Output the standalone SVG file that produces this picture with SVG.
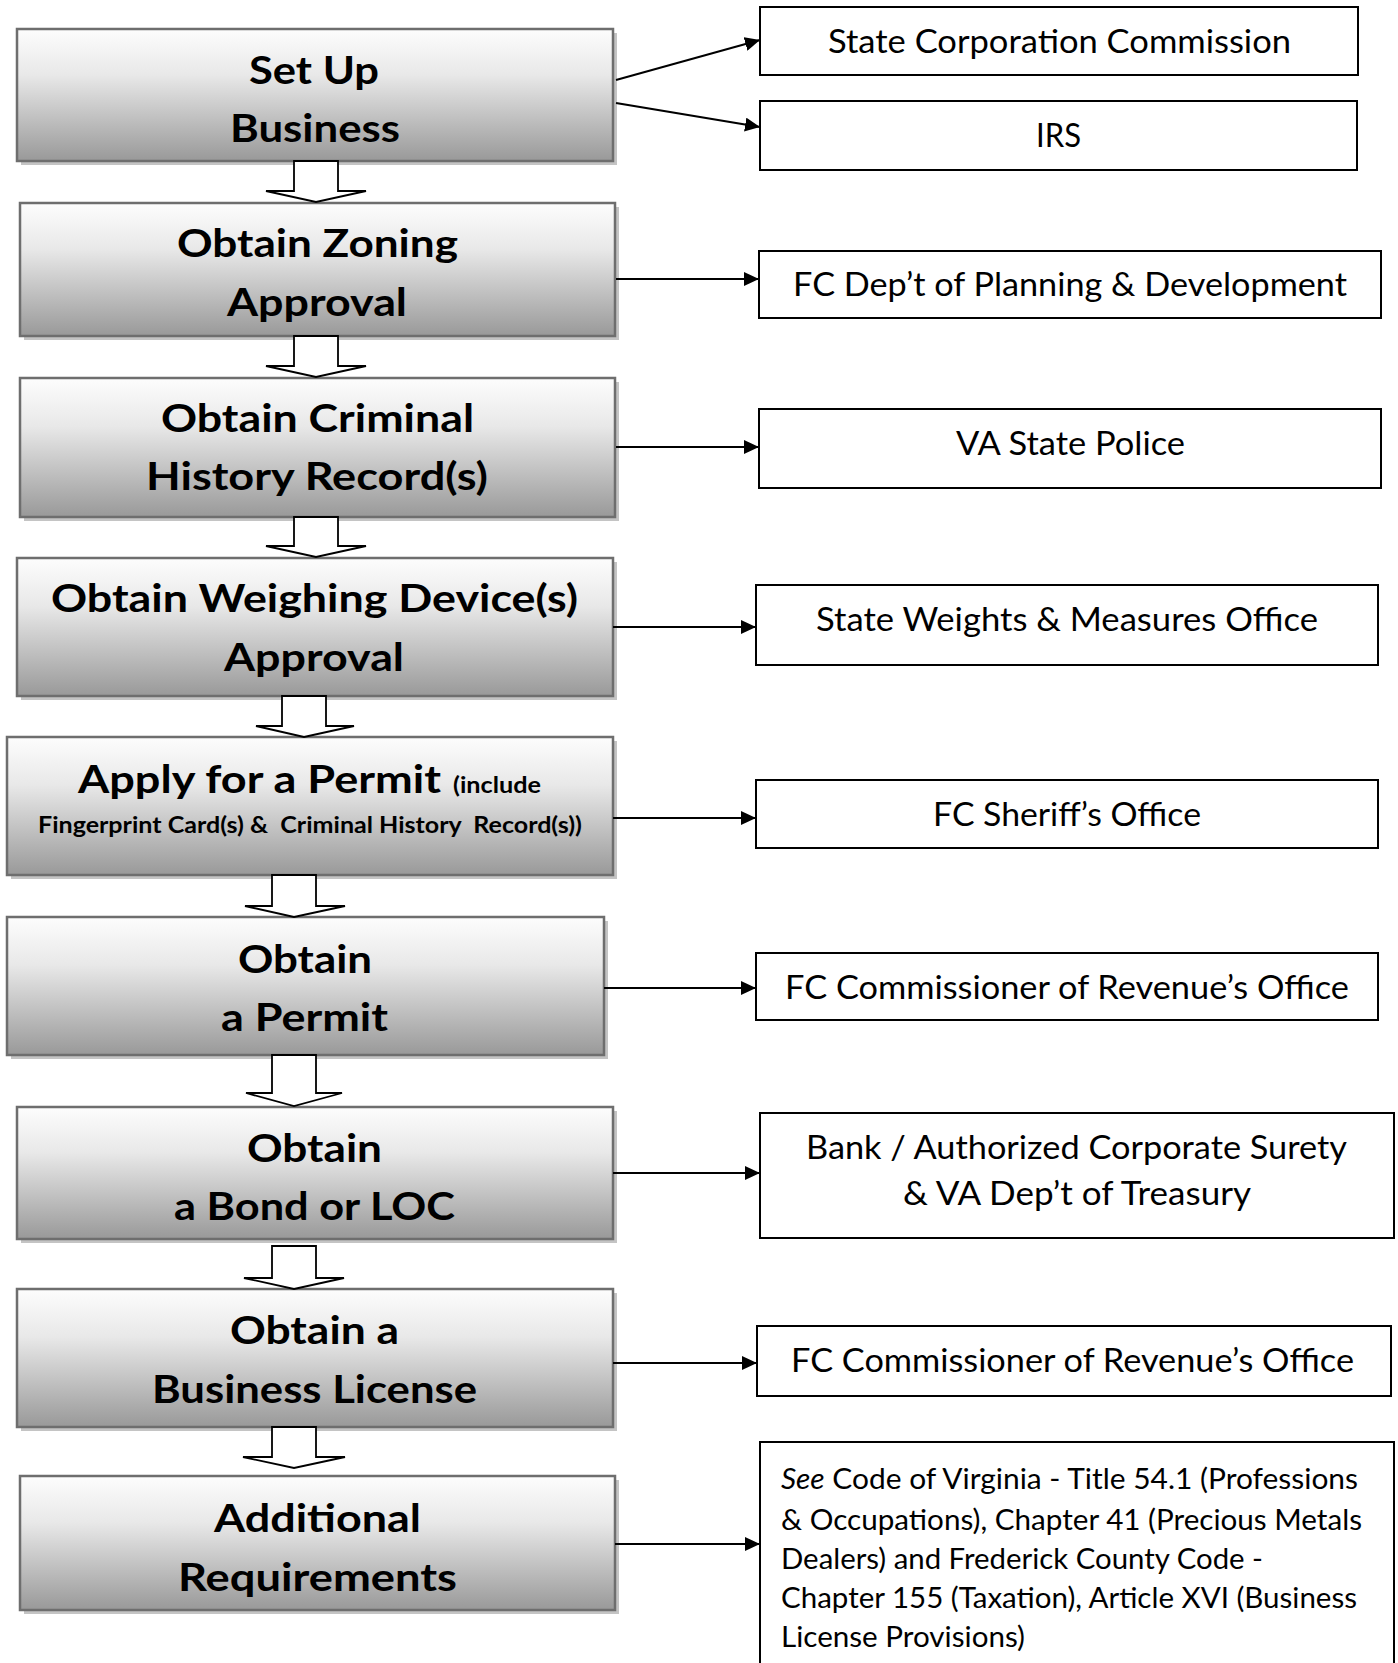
<svg xmlns="http://www.w3.org/2000/svg" width="1398" height="1663" viewBox="0 0 1398 1663">
<style>
.bx{fill:url(#g);stroke:#6e6e6e;stroke-width:2.5}
.sh{fill:#c4c4c4}
.rb{fill:#fff;stroke:#000;stroke-width:2}
.t{font-family:Lato,"Open Sans",sans-serif;font-weight:bold;font-size:39px;fill:#000}
.ts{font-family:Lato,"Open Sans",sans-serif;font-weight:bold;font-size:22px;fill:#000}
.r{font-family:Lato,"Open Sans",sans-serif;font-size:32px;fill:#000}
.rs{font-family:Lato,"Open Sans",sans-serif;font-size:29px;fill:#000}
.ba{fill:#fff;stroke:#000;stroke-width:1.8;stroke-linejoin:miter}
.c{stroke:#000;stroke-width:2;fill:none;marker-end:url(#ah)}
</style>
<defs>
<linearGradient id="g" x1="0" y1="0" x2="0" y2="1">
<stop offset="0" stop-color="#fdfdfd"/>
<stop offset="0.35" stop-color="#e8e8e8"/>
<stop offset="1" stop-color="#999"/>
</linearGradient>
<marker id="ah" markerUnits="userSpaceOnUse" markerWidth="16" markerHeight="14" refX="15" refY="7" orient="auto">
<path d="M0,0 L15,7 L0,14 z" fill="#000"/>
</marker>
</defs>
<rect width="1398" height="1663" fill="#fff"/>

<g id="n1"><rect class="sh" x="21" y="33" width="596" height="132"/><rect class="bx" x="17" y="29" width="596" height="132"/>
<text class="t" x="249" y="84" textLength="130" lengthAdjust="spacingAndGlyphs">Set Up</text>
<text class="t" x="230" y="142" textLength="170" lengthAdjust="spacingAndGlyphs">Business</text></g>

<g id="n2"><rect class="sh" x="24" y="207" width="595" height="133"/><rect class="bx" x="20" y="203" width="595" height="133"/>
<text class="t" x="177" y="257" textLength="281" lengthAdjust="spacingAndGlyphs">Obtain Zoning</text>
<text class="t" x="227" y="316" textLength="180" lengthAdjust="spacingAndGlyphs">Approval</text></g>

<g id="n3"><rect class="sh" x="24" y="382" width="595" height="139"/><rect class="bx" x="20" y="378" width="595" height="139"/>
<text class="t" x="161" y="432" textLength="313" lengthAdjust="spacingAndGlyphs">Obtain Criminal</text>
<text class="t" x="146" y="490" textLength="342" lengthAdjust="spacingAndGlyphs">History Record(s)</text></g>

<g id="n4"><rect class="sh" x="21" y="562" width="596" height="138"/><rect class="bx" x="17" y="558" width="596" height="138"/>
<text class="t" x="51" y="612" textLength="527" lengthAdjust="spacingAndGlyphs">Obtain Weighing Device(s)</text>
<text class="t" x="224" y="671" textLength="180" lengthAdjust="spacingAndGlyphs">Approval</text></g>

<g id="n5"><rect class="sh" x="11" y="741" width="606" height="138"/><rect class="bx" x="7" y="737" width="606" height="138"/>
<text class="t" x="78" y="793" textLength="363" lengthAdjust="spacingAndGlyphs">Apply for a Permit</text>
<text class="ts" x="453" y="793" textLength="88" lengthAdjust="spacingAndGlyphs">(include</text>
<text class="ts" x="38" y="833" textLength="544" lengthAdjust="spacingAndGlyphs" xml:space="preserve">Fingerprint Card(s) &amp;  Criminal History  Record(s))</text></g>

<g id="n6"><rect class="sh" x="11" y="921" width="597" height="138"/><rect class="bx" x="7" y="917" width="597" height="138"/>
<text class="t" x="238" y="973" textLength="134" lengthAdjust="spacingAndGlyphs">Obtain</text>
<text class="t" x="221" y="1031" textLength="167" lengthAdjust="spacingAndGlyphs">a Permit</text></g>

<g id="n7"><rect class="sh" x="21" y="1111" width="596" height="132"/><rect class="bx" x="17" y="1107" width="596" height="132"/>
<text class="t" x="247" y="1162" textLength="135" lengthAdjust="spacingAndGlyphs">Obtain</text>
<text class="t" x="174" y="1220" textLength="281" lengthAdjust="spacingAndGlyphs">a Bond or LOC</text></g>

<g id="n8"><rect class="sh" x="21" y="1293" width="596" height="138"/><rect class="bx" x="17" y="1289" width="596" height="138"/>
<text class="t" x="230" y="1344" textLength="169" lengthAdjust="spacingAndGlyphs">Obtain a</text>
<text class="t" x="152" y="1403" textLength="325" lengthAdjust="spacingAndGlyphs">Business License</text></g>

<g id="n9"><rect class="sh" x="24" y="1480" width="595" height="134"/><rect class="bx" x="20" y="1476" width="595" height="134"/>
<text class="t" x="214" y="1532" textLength="207" lengthAdjust="spacingAndGlyphs">Additional</text>
<text class="t" x="178" y="1591" textLength="279" lengthAdjust="spacingAndGlyphs">Requirements</text></g>

<g id="r1"><rect class="rb" x="760" y="7" width="598" height="68"/>
<text class="r" x="828" y="53" textLength="463" lengthAdjust="spacingAndGlyphs">State Corporation Commission</text></g>
<g id="r2"><rect class="rb" x="760" y="101" width="597" height="69"/>
<text class="r" x="1036" y="147" textLength="45" lengthAdjust="spacingAndGlyphs">IRS</text></g>
<g id="r3"><rect class="rb" x="759" y="251" width="622" height="67"/>
<text class="r" x="793" y="296" textLength="554" lengthAdjust="spacingAndGlyphs">FC Dep’t of Planning &amp; Development</text></g>
<g id="r4"><rect class="rb" x="759" y="409" width="622" height="79"/>
<text class="r" x="956" y="455" textLength="229" lengthAdjust="spacingAndGlyphs">VA State Police</text></g>
<g id="r5"><rect class="rb" x="756" y="585" width="622" height="80"/>
<text class="r" x="816" y="631" textLength="502" lengthAdjust="spacingAndGlyphs">State Weights &amp; Measures Office</text></g>
<g id="r6"><rect class="rb" x="756" y="780" width="622" height="68"/>
<text class="r" x="933" y="826" textLength="268" lengthAdjust="spacingAndGlyphs">FC Sheriff’s Office</text></g>
<g id="r7"><rect class="rb" x="756" y="953" width="622" height="67"/>
<text class="r" x="785" y="999" textLength="564" lengthAdjust="spacingAndGlyphs">FC Commissioner of Revenue’s Office</text></g>
<g id="r8"><rect class="rb" x="760" y="1113" width="634" height="125"/>
<text class="r" x="806" y="1159" textLength="541" lengthAdjust="spacingAndGlyphs">Bank / Authorized Corporate Surety</text>
<text class="r" x="903" y="1205" textLength="348" lengthAdjust="spacingAndGlyphs">&amp; VA Dep’t of Treasury</text></g>
<g id="r9"><rect class="rb" x="757" y="1326" width="634" height="70"/>
<text class="r" x="791" y="1372" textLength="563" lengthAdjust="spacingAndGlyphs">FC Commissioner of Revenue’s Office</text></g>
<g id="r10"><rect class="rb" x="760" y="1442" width="634" height="240"/>
<text class="rs" x="781" y="1489" textLength="577" lengthAdjust="spacingAndGlyphs"><tspan font-style="italic">See</tspan> Code of Virginia - Title 54.1 (Professions</text>
<text class="rs" x="781" y="1530" textLength="581" lengthAdjust="spacingAndGlyphs">&amp; Occupations), Chapter 41 (Precious Metals</text>
<text class="rs" x="781" y="1569" textLength="482" lengthAdjust="spacingAndGlyphs">Dealers) and Frederick County Code -</text>
<text class="rs" x="781" y="1608" textLength="576" lengthAdjust="spacingAndGlyphs">Chapter 155 (Taxation), Article XVI (Business</text>
<text class="rs" x="781" y="1647" textLength="244" lengthAdjust="spacingAndGlyphs">License Provisions)</text></g>

<g id="connectors">
<polygon class="ba" points="294,161 338,161 338,191 366,191 316,202 266,191 294,191"/>
<polygon class="ba" points="294,336 338,336 338,366 366,366 316,377 266,366 294,366"/>
<polygon class="ba" points="294,517 338,517 338,546 366,546 316,557 266,546 294,546"/>
<polygon class="ba" points="282,696 326,696 326,726 354,726 304,737 256,726 282,726"/>
<polygon class="ba" points="272,875 316,875 316,906 345,906 294,917 245,906 272,906"/>
<polygon class="ba" points="272,1055 316,1055 316,1093 342,1093 294,1106 246,1093 272,1093"/>
<polygon class="ba" points="272,1246 316,1246 316,1278 344,1278 294,1289 244,1278 272,1278"/>
<polygon class="ba" points="272,1427 316,1427 316,1457 345,1457 294,1468 243,1457 272,1457"/>
<line class="c" x1="616" y1="80" x2="760" y2="40"/>
<line class="c" x1="616" y1="103" x2="760" y2="127"/>
<line class="c" x1="616" y1="279" x2="759" y2="279"/>
<line class="c" x1="616" y1="447" x2="759" y2="447"/>
<line class="c" x1="613" y1="627" x2="756" y2="627"/>
<line class="c" x1="613" y1="818" x2="756" y2="818"/>
<line class="c" x1="604" y1="988" x2="756" y2="988"/>
<line class="c" x1="613" y1="1173" x2="760" y2="1173"/>
<line class="c" x1="613" y1="1363" x2="757" y2="1363"/>
<line class="c" x1="615" y1="1544" x2="760" y2="1544"/>
</g>
</svg>
